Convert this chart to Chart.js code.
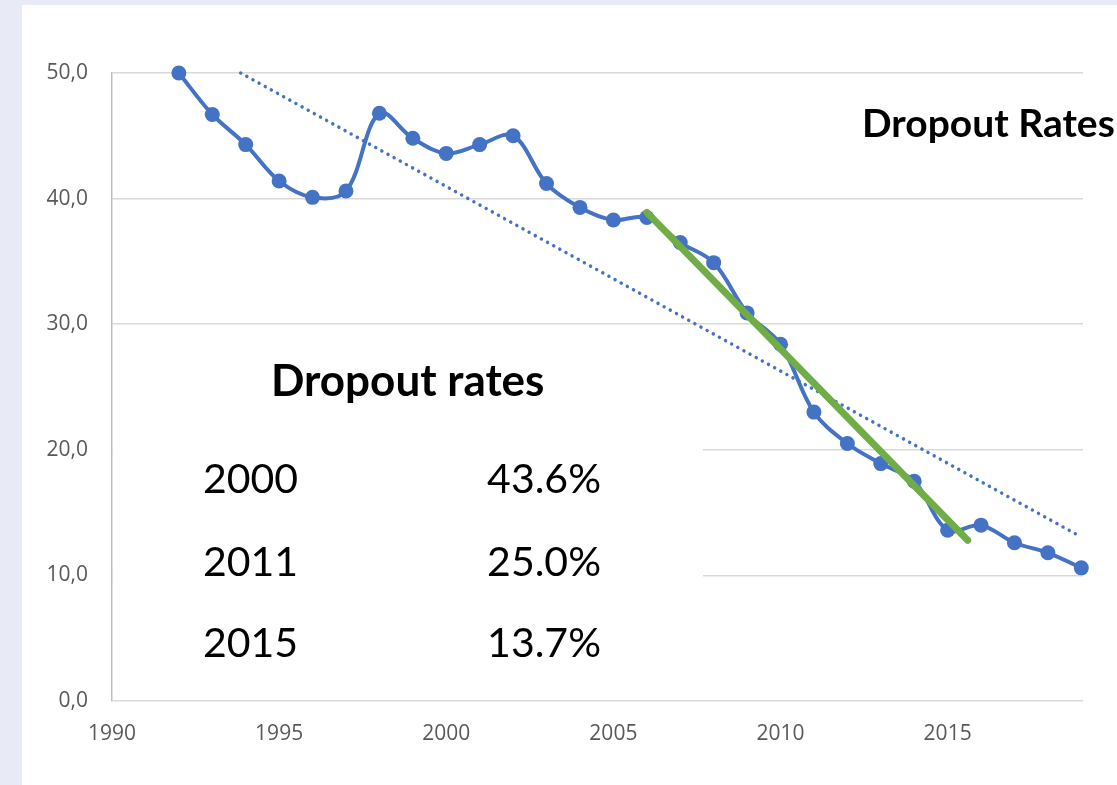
<!DOCTYPE html>
<html>
<head>
<meta charset="utf-8">
<script src="https://cdn.jsdelivr.net/npm/chart.js@4"></script>
<style>
    html, body { margin: 0; padding: 0; }
    body { width: 1117px; height: 785px; background: #e8ebf5; overflow: hidden; }
    #panel { position: absolute; left: 22px; top: 5px; width: 1095px; height: 780px; background: #fff; }
    #panel canvas { display: block; }
</style>
</head>
<body>
<div id="panel"><canvas id="dropout-chart" width="1095" height="780"></canvas></div>
<script>
// Dropout rates by year
const years = [1992, 1993, 1994, 1995, 1996, 1997, 1998, 1999, 2000, 2001, 2002, 2003, 2004, 2005,
               2006, 2007, 2008, 2009, 2010, 2011, 2012, 2013, 2014, 2015, 2016, 2017, 2018, 2019];
const rates = [50.0, 46.7, 44.3, 41.4, 40.1, 40.6, 46.8, 44.8, 43.6, 44.3, 45.0, 41.2, 39.3, 38.3,
               38.5, 36.5, 34.9, 30.9, 28.4, 23.0, 20.5, 18.9, 17.5, 13.6, 14.0, 12.6, 11.8, 10.6];

// dotted long-run trend and the steep green segment (start / end)
const trendYears = [1993.85, 2018.9];
const trendRates = [50.0, 13.2];
const steepYears = [2006.0, 2015.6];
const steepRates = [38.9, 12.8];

// summary table
const tableTitle = 'Dropout rates';
const tableYears = ['2000', '2011', '2015'];
const tableRates = ['43.6%', '25.0%', '13.7%'];
const chartTitle = 'Dropout Rates';

const BLUE = '#4472c4';
const GREEN = '#70ad47';

const toPoints = (xs, ys) => xs.map((x, i) => ({ x: x, y: ys[i] }));

// white text box that hides the grid behind the table, and the texts
const overlayPlugin = {
    id: 'overlay',
    beforeDatasetsDraw(chart) {
        const ctx = chart.ctx;
        ctx.save();
        ctx.fillStyle = '#fff';
        ctx.fillRect(chart.chartArea.left + 1, 335, 681 - chart.chartArea.left - 1, 350);
        ctx.restore();
    },
    afterDraw(chart) {
        const ctx = chart.ctx;
        ctx.save();
        ctx.fillStyle = '#000';
        ctx.textBaseline = 'alphabetic';

        ctx.textAlign = 'left';
        ctx.font = 'bold 39px Lato';
        ctx.fillText(chartTitle, 840, 132);

        ctx.font = 'bold 44px Lato';
        ctx.fillText(tableTitle, 249, 391);

        const rows = [488, 571, 652];
        ctx.font = '41px Lato';
        tableYears.forEach((y, i) => {
            ctx.textAlign = 'left';
            ctx.fillText(y, 181, rows[i]);
            ctx.textAlign = 'right';
            ctx.fillText(tableRates[i], 579, rows[i]);
        });
        ctx.restore();
    }
};

const tickFont = { family: 'Open Sans', size: 21 };

new Chart(document.getElementById('dropout-chart'), {
    type: 'line',
    data: {
        datasets: [
            {
                label: 'Steep decline',
                data: toPoints(steepYears, steepRates),
                borderColor: GREEN,
                borderWidth: 7,
                borderCapStyle: 'round',
                pointRadius: 0,
                order: 0,
                clip: false
            },
            {
                label: 'Dropout rate',
                data: toPoints(years, rates),
                borderColor: BLUE,
                backgroundColor: BLUE,
                borderWidth: 4,
                tension: 0.35,
                pointRadius: 7.5,
                pointBorderWidth: 0,
                pointBackgroundColor: BLUE,
                order: 1,
                clip: false
            },
            {
                label: 'Trend',
                data: toPoints(trendYears, trendRates),
                borderColor: BLUE,
                borderWidth: 3.5,
                borderDash: [0.01, 7],
                borderCapStyle: 'round',
                pointRadius: 0,
                order: 2,
                clip: false
            }
        ]
    },
    options: {
        responsive: false,
        animation: false,
        layout: { padding: { left: 0, right: 34, top: 68, bottom: 0 } },
        plugins: {
            legend: { display: false },
            tooltip: { enabled: false }
        },
        scales: {
            x: {
                type: 'linear',
                min: 1990,
                max: 2019.05,
                grid: { display: false, drawTicks: false },
                border: { display: false },
                ticks: {
                    stepSize: 5,
                    includeBounds: false,
                    padding: 20,
                    color: '#595959',
                    font: tickFont,
                    maxRotation: 0,
                    callback: v => String(v)
                },
                afterFit: s => { s.height = 84; }
            },
            y: {
                min: 0,
                max: 50,
                grid: { color: '#d9d9d9', lineWidth: 1.5, drawTicks: false },
                border: { display: true, color: '#bfbfbf', width: 1.5 },
                ticks: {
                    stepSize: 10,
                    padding: 24,
                    color: '#595959',
                    font: tickFont,
                    callback: v => v.toFixed(1).replace('.', ',')
                },
                afterFit: s => { s.width = 90; }
            }
        }
    },
    plugins: [overlayPlugin]
});
</script>
</body>
</html>
